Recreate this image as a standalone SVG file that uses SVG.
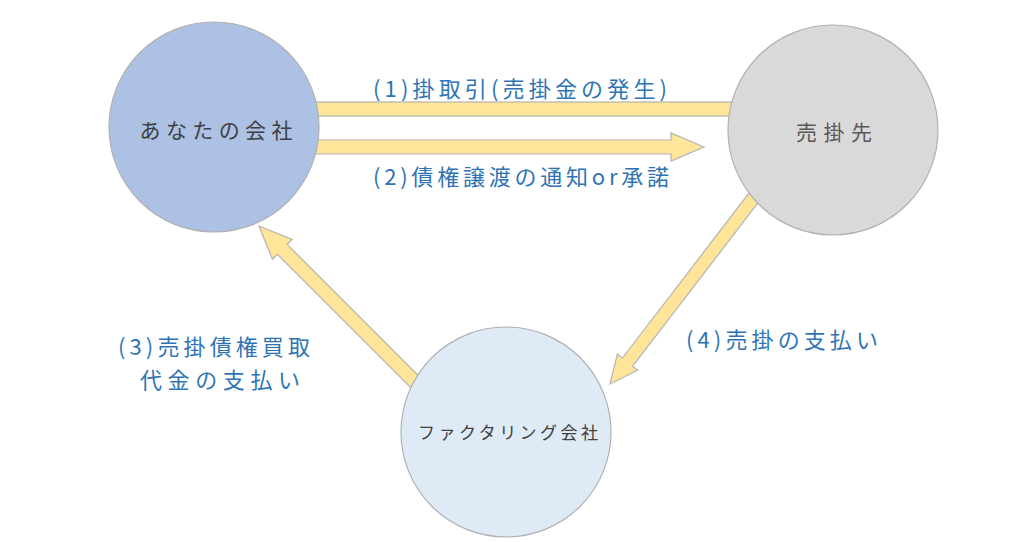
<svg xmlns="http://www.w3.org/2000/svg" width="1024" height="542" viewBox="0 0 1024 542">
<defs>
<style>
.arrow{fill:#ffe599;stroke:#b3b3b3;stroke-width:1.2;stroke-linejoin:miter}
.node{stroke:#b0b0b0;stroke-width:1.2}
.lbl{font-family:"Noto Sans CJK JP","Noto Sans",sans-serif;font-size:22px;fill:#2e74b5}
.ntxt{font-family:"Noto Sans CJK JP","Noto Sans",sans-serif;fill:#404040;text-anchor:middle}
</style>
</defs>
<rect width="1024" height="542" fill="#ffffff"/>
<g id="connectors">
<rect class="arrow" x="290" y="102" width="470" height="14"/>
<polygon class="arrow" points="300,140 671,140 671,133 704,147 671,161 671,154 300,154"/>
<polygon class="arrow" points="424.95,382.05 287.25,244.35 292.2,239.4 259,226 272.4,259.2 277.35,254.25 415.05,391.95"/>
<polygon class="arrow" points="780.1,174.1 632.6,366.2 637.7,370.2 610,384 617.4,354 622.4,358 769.9,165.9"/>
<text class="lbl" x="373" y="97" textLength="294" lengthAdjust="spacing">(1)掛取引(売掛金の発生)</text>
<text class="lbl" x="373" y="185" textLength="296" lengthAdjust="spacing">(2)債権譲渡の通知or承諾</text>
<text class="lbl" x="118" y="355" textLength="192" lengthAdjust="spacing">(3)売掛債権買取</text>
<text class="lbl" x="140" y="388" textLength="160" lengthAdjust="spacing">代金の支払い</text>
<text class="lbl" x="686" y="348" textLength="192" lengthAdjust="spacing">(4)売掛の支払い</text>
</g>
<g id="node-you">
<circle class="node" cx="214" cy="127" r="105" fill="#adc1e4"/>
<text class="ntxt" x="216" y="138" font-size="21" textLength="153" lengthAdjust="spacing">あなたの会社</text>
</g>
<g id="node-customer">
<circle class="node" cx="833" cy="130" r="105" fill="#d9d9d9"/>
<text class="ntxt" x="834" y="140" font-size="21" style="fill:#595959" textLength="76" lengthAdjust="spacing">売掛先</text>
</g>
<g id="node-factoring">
<circle class="node" cx="506" cy="432" r="105" fill="#deeaf6"/>
<text class="ntxt" x="508" y="439" font-size="17" textLength="180" lengthAdjust="spacing">ファクタリング会社</text>
</g>
</svg>
